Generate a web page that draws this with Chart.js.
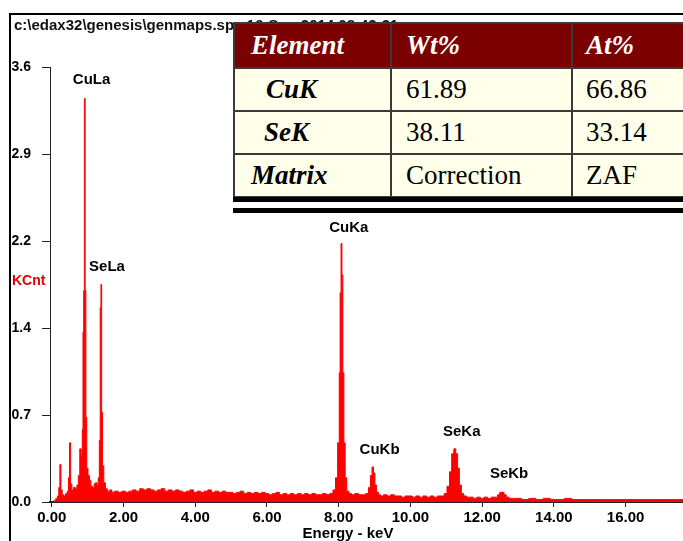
<!DOCTYPE html>
<html>
<head>
<meta charset="utf-8">
<script src="https://cdn.jsdelivr.net/npm/chart.js@4"></script>
<style>
  html, body { margin: 0; padding: 0; background: #fff; overflow: hidden; }
  body { width: 683px; height: 541px; position: relative; }
  #chart { position: absolute; left: 0; top: 0; }
  .frame-left { position: absolute; left: 9px; top: 13px; width: 2px; height: 540px; background: #000; }
  .frame-top { position: absolute; left: 9px; top: 13px; width: 700px; height: 2px; background: #000; }
  .title { position: absolute; left: 14px; top: 16px; font: bold 15px "Liberation Sans", Arial, sans-serif; color: #111; white-space: nowrap; }
  table.res {
    position: absolute; left: 233px; top: 22px; width: 480px;
    border-collapse: collapse; table-layout: fixed;
    font-family: "Liberation Serif", "Times New Roman", serif; font-size: 27px;
    background: #ffffea; color: #000;
  }
  table.res td { border: 2px solid #3a3a3a; padding: 0; white-space: nowrap; overflow: hidden; }
  table.res tr.head td { background: #7b0000; color: #fff; font-weight: bold; font-style: italic; height: 43px; }
  table.res tr.row td { height: 41px; }
  table.res td.el { font-weight: bold; font-style: italic; }
  .bar1 { position: absolute; left: 233px; top: 197px; width: 470px; height: 5px; background: #000; }
  .bar2 { position: absolute; left: 233px; top: 208px; width: 470px; height: 5px; background: #000; }
</style>
</head>
<body>
<canvas id="chart" width="683" height="541"></canvas>
<div class="frame-left"></div>
<div class="frame-top"></div>
<div class="title">c:\edax32\genesis\genmaps.spc 16-Sep-2014 08:42:21</div>
<table class="res">
  <colgroup><col style="width:157px"><col style="width:181px"><col style="width:142px"></colgroup>
  <tr class="head"><td style="padding-left:16px">Element</td><td style="padding-left:14px">Wt%</td><td style="padding-left:13px">At%</td></tr>
  <tr class="row"><td class="el" style="padding-left:31px">CuK</td><td style="padding-left:14px">61.89</td><td style="padding-left:13px">66.86</td></tr>
  <tr class="row"><td class="el" style="padding-left:29px">SeK</td><td style="padding-left:14px">38.11</td><td style="padding-left:13px">33.14</td></tr>
  <tr class="row"><td class="el" style="padding-left:16px">Matrix</td><td style="padding-left:14px">Correction</td><td style="padding-left:13px">ZAF</td></tr>
</table>
<div class="bar1"></div>
<div class="bar2"></div>
<script>
// spectrum: energy (keV) and counts (KCnt)
const energyKeV = [
  0.00, 0.08, 0.14, 0.18, 0.21, 0.24, 0.27, 0.31, 0.36, 0.41, 0.45, 0.48, 0.51, 0.54, 0.58,
  0.63, 0.68, 0.72, 0.76, 0.80, 0.84, 0.86, 0.88, 0.90, 0.92, 0.94, 0.96, 0.99, 1.03, 1.07,
  1.11, 1.16, 1.20, 1.24, 1.28, 1.31, 1.34, 1.36, 1.38, 1.40, 1.43, 1.47, 1.52, 1.58, 1.65,
  1.70, 1.80, 1.90, 2.00, 2.10, 2.20, 2.30, 2.40, 2.50, 2.60, 2.70, 2.80, 2.90, 3.00, 3.10,
  3.20, 3.30, 3.40, 3.50, 3.60, 3.70, 3.80, 3.90, 4.00, 4.10, 4.20, 4.30, 4.40, 4.50, 4.60,
  4.70, 4.80, 4.90, 5.00, 5.10, 5.20, 5.30, 5.40, 5.50, 5.60, 5.70, 5.80, 5.90, 6.00, 6.10,
  6.20, 6.30, 6.40, 6.50, 6.60, 6.70, 6.80, 6.90, 7.00, 7.10, 7.20, 7.30, 7.40, 7.50, 7.60,
  7.70, 7.80, 7.88, 7.94, 8.00, 8.03, 8.05, 8.08, 8.10, 8.13, 8.16, 8.20, 8.25, 8.32, 8.40,
  8.50, 8.60, 8.70, 8.80, 8.86, 8.91, 8.95, 8.99, 9.03, 9.08, 9.14, 9.20, 9.30, 9.40, 9.50,
  9.60, 9.70, 9.80, 9.90, 10.00, 10.10, 10.20, 10.30, 10.40, 10.50, 10.60, 10.70, 10.80, 10.90, 10.98,
  11.06, 11.12, 11.18, 11.24, 11.29, 11.34, 11.39, 11.45, 11.52, 11.60, 11.70, 11.80, 11.90, 12.00, 12.10,
  12.20, 12.30, 12.40, 12.46, 12.52, 12.58, 12.64, 12.70, 12.80, 12.90, 13.00, 13.20, 13.40, 13.60, 13.80,
  14.00, 14.20, 14.40, 14.60, 14.80, 15.00, 15.20, 15.40, 15.60, 15.80, 16.00, 16.20, 16.40, 16.60, 16.80,
  17.00, 17.20, 17.40, 17.60
];
const countsKCnt = [
  0.00, 0.01, 0.03, 0.05, 0.12, 0.31, 0.10, 0.06, 0.05, 0.07, 0.09, 0.20, 0.49, 0.15, 0.10,
  0.12, 0.11, 0.14, 0.22, 0.44, 0.38, 0.60, 1.41, 1.75, 3.34, 1.75, 0.70, 0.28, 0.22, 0.18,
  0.13, 0.12, 0.15, 0.16, 0.14, 0.20, 0.51, 1.61, 1.80, 0.74, 0.30, 0.16, 0.11, 0.09, 0.10,
  0.08, 0.09, 0.08, 0.09, 0.08, 0.09, 0.10, 0.09, 0.11, 0.10, 0.11, 0.10, 0.09, 0.10, 0.11,
  0.09, 0.10, 0.09, 0.10, 0.09, 0.08, 0.09, 0.10, 0.08, 0.09, 0.08, 0.09, 0.10, 0.08, 0.09,
  0.08, 0.09, 0.08, 0.08, 0.07, 0.08, 0.09, 0.07, 0.08, 0.07, 0.08, 0.07, 0.08, 0.07, 0.06,
  0.07, 0.08, 0.06, 0.07, 0.06, 0.07, 0.06, 0.07, 0.06, 0.07, 0.06, 0.07, 0.06, 0.06, 0.07,
  0.06, 0.07, 0.10, 0.20, 0.49, 1.07, 1.73, 2.14, 1.88, 1.07, 0.49, 0.20, 0.09, 0.07, 0.06,
  0.07, 0.06, 0.06, 0.07, 0.12, 0.22, 0.29, 0.24, 0.14, 0.08, 0.06, 0.05, 0.06, 0.05, 0.06,
  0.05, 0.05, 0.04, 0.05, 0.05, 0.04, 0.05, 0.04, 0.05, 0.04, 0.05, 0.04, 0.05, 0.05, 0.07,
  0.13, 0.25, 0.40, 0.44, 0.40, 0.28, 0.14, 0.07, 0.05, 0.04, 0.04, 0.03, 0.04, 0.03, 0.04,
  0.03, 0.04, 0.04, 0.06, 0.08, 0.08, 0.06, 0.04, 0.03, 0.03, 0.03, 0.02, 0.03, 0.02, 0.03,
  0.02, 0.02, 0.03, 0.02, 0.02, 0.02, 0.02, 0.02, 0.02, 0.02, 0.02, 0.02, 0.02, 0.02, 0.02,
  0.02, 0.02, 0.02, 0.02
];
const xTickValues = [0, 2, 4, 6, 8, 10, 12, 14, 16];
const yTickValues = [0, 0.72, 1.44, 2.16, 2.88, 3.6];

// peak labels: name, energy and height where the label sits
const peakNames = ['CuLa', 'SeLa', 'CuKa', 'CuKb', 'SeKa', 'SeKb'];
const peakLabelKeV = [1.11, 1.54, 8.28, 9.14, 11.43, 12.75];
const peakLabelKCnt = [3.49, 1.95, 2.27, 0.43, 0.58, 0.23];

const boldFont = (size) => 'bold ' + size + 'px "Liberation Sans", Arial, sans-serif';

const textPlugin = {
  id: 'spectrumText',
  afterDatasetsDraw(chart) {
    const c = chart.ctx;
    const xs = chart.scales.x, ys = chart.scales.y;
    c.save();
    c.font = boldFont(15);
    c.fillStyle = '#000';
    c.textAlign = 'center';
    c.textBaseline = 'middle';
    peakNames.forEach((name, i) => {
      c.fillText(name, xs.getPixelForValue(peakLabelKeV[i]), ys.getPixelForValue(peakLabelKCnt[i]));
    });
    // axis names
    c.fillText('Energy - keV', 348, 534);
    c.font = boldFont(14);
    c.fillStyle = '#e00000';
    c.textAlign = 'left';
    c.fillText('KCnt', 12, 281);
    c.restore();
  }
};

const spectrum = energyKeV.map((e, i) => ({ x: e, y: countsKCnt[i] }));

new Chart(document.getElementById('chart'), {
  type: 'line',
  data: {
    datasets: [{
      data: spectrum,
      borderColor: '#ff0000',
      backgroundColor: '#ff0000',
      borderWidth: 1,
      fill: 'origin',
      pointRadius: 0,
      stepped: 'middle',
    }]
  },
  options: {
    responsive: false,
    animation: false,
    layout: { padding: { top: 67, right: 0, left: 0, bottom: 0 } },
    plugins: { legend: { display: false }, tooltip: { enabled: false } },
    scales: {
      x: {
        type: 'linear',
        min: -0.05,
        max: 17.6,
        afterBuildTicks: (s) => { s.ticks = xTickValues.map(v => ({ value: v })); },
        afterFit: (s) => { s.height = 39; },
        grid: { drawOnChartArea: false, drawTicks: true, tickLength: 5, color: '#222' },
        border: { color: '#222', width: 2 },
        ticks: {
          color: '#000', font: { family: '"Liberation Sans", Arial', size: 15, weight: 'bold' },
          padding: 2, maxRotation: 0, autoSkip: false,
          callback: (v) => Number(v).toFixed(2)
        }
      },
      y: {
        min: 0,
        max: 3.6,
        afterBuildTicks: (s) => { s.ticks = yTickValues.map(v => ({ value: v })); },
        afterFit: (s) => { s.width = 50; },
        grid: { drawOnChartArea: false, drawTicks: true, tickLength: 8, color: '#222' },
        border: { color: '#222', width: 1 },
        ticks: {
          color: '#000', font: { family: '"Liberation Sans", Arial', size: 14, weight: 'bold' },
          padding: 11,
          callback: (v) => Number(v).toFixed(1)
        }
      }
    }
  },
  plugins: [textPlugin]
});
</script>
</body>
</html>
